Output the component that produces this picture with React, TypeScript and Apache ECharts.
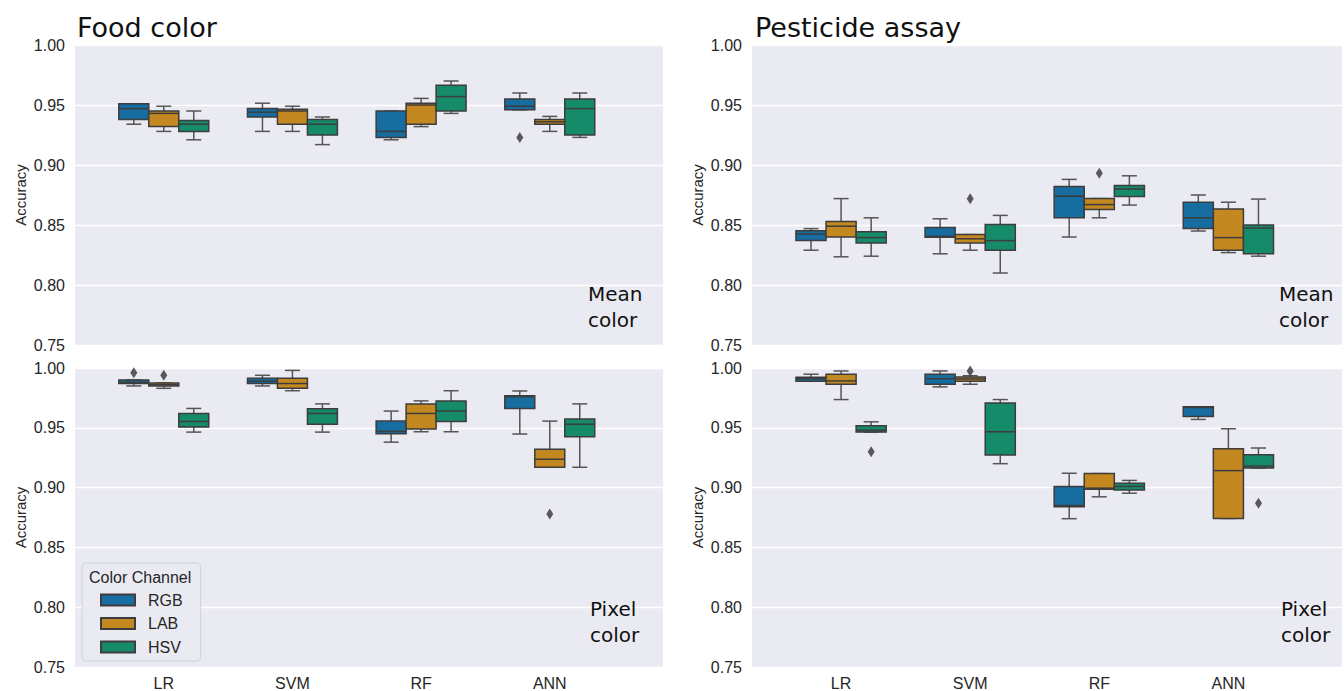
import React, { useEffect, useRef } from "react";
import * as echarts from "echarts";

const CATEGORIES = ["LR", "SVM", "RF", "ANN"];
const CHANNELS = ["RGB", "LAB", "HSV"];
const CHANNEL_COLORS = ["#176ca0", "#c38820", "#168b6a"];
const Y_MIN = 0.75;
const Y_MAX = 1.0;
const Y_STEP = 0.05;

// Each entry: [min, q1, median, q3, max] for LR, SVM, RF, ANN
const foodMeanRGB = [
  [0.934, 0.938, 0.947, 0.951, 0.951],
  [0.928, 0.94, 0.944, 0.947, 0.9515],
  [0.921, 0.923, 0.928, 0.945, 0.945],
  [0.946, 0.946, 0.949, 0.955, 0.96],
];
const foodMeanLAB = [
  [0.928, 0.932, 0.943, 0.945, 0.949],
  [0.928, 0.934, 0.945, 0.9465, 0.949],
  [0.932, 0.934, 0.95, 0.9515, 0.9555],
  [0.928, 0.934, 0.936, 0.938, 0.9405],
];
const foodMeanHSV = [
  [0.921, 0.928, 0.934, 0.937, 0.945],
  [0.917, 0.925, 0.934, 0.938, 0.94],
  [0.943, 0.945, 0.957, 0.9665, 0.97],
  [0.923, 0.925, 0.947, 0.955, 0.96],
];
// [channel index, category index, value]
const foodMeanOutliers = [[0, 3, 0.923]];

const pestMeanRGB = [
  [0.829, 0.837, 0.8425, 0.8453, 0.847],
  [0.826, 0.8397, 0.8405, 0.848, 0.8552],
  [0.84, 0.856, 0.874, 0.882, 0.888],
  [0.845, 0.847, 0.856, 0.869, 0.875],
];
const pestMeanLAB = [
  [0.8235, 0.84, 0.849, 0.853, 0.872],
  [0.829, 0.835, 0.8385, 0.842, 0.842],
  [0.856, 0.863, 0.867, 0.872, 0.872],
  [0.827, 0.829, 0.8395, 0.8633, 0.869],
];
const pestMeanHSV = [
  [0.824, 0.835, 0.8395, 0.8444, 0.856],
  [0.81, 0.829, 0.837, 0.8505, 0.858],
  [0.8666, 0.8737, 0.88, 0.883, 0.891],
  [0.824, 0.826, 0.8475, 0.85, 0.8716],
];
const pestMeanOutliers = [
  [1, 1, 0.8718],
  [1, 2, 0.8931],
];

const foodPixelRGB = [
  [0.985, 0.987, 0.988, 0.99, 0.99],
  [0.985, 0.987, 0.989, 0.9914, 0.9939],
  [0.938, 0.945, 0.947, 0.9556, 0.964],
  [0.9448, 0.9662, 0.976, 0.9767, 0.9808],
];
const foodPixelLAB = [
  [0.983, 0.985, 0.986, 0.9875, 0.9875],
  [0.981, 0.983, 0.987, 0.9914, 0.998],
  [0.9467, 0.949, 0.962, 0.97, 0.9725],
  [0.917, 0.917, 0.9237, 0.932, 0.9556],
];
const foodPixelHSV = [
  [0.9464, 0.9506, 0.9553, 0.962, 0.9662],
  [0.9464, 0.953, 0.962, 0.966, 0.97],
  [0.9467, 0.9553, 0.964, 0.9725, 0.981],
  [0.917, 0.9425, 0.953, 0.9573, 0.97],
];
const foodPixelOutliers = [
  [0, 0, 0.996],
  [1, 0, 0.994],
  [1, 3, 0.878],
];

const pestPixelRGB = [
  [0.989, 0.989, 0.991, 0.9923, 0.9948],
  [0.9842, 0.9864, 0.991, 0.9948, 0.9975],
  [0.874, 0.884, 0.885, 0.901, 0.912],
  [0.957, 0.9595, 0.967, 0.9675, 0.9675],
];
const pestPixelLAB = [
  [0.9736, 0.9864, 0.9892, 0.9948, 0.9975],
  [0.9864, 0.989, 0.9908, 0.9925, 0.9935],
  [0.8923, 0.8987, 0.8995, 0.9117, 0.9117],
  [0.8742, 0.8742, 0.9142, 0.9325, 0.9492],
];
const pestPixelHSV = [
  [0.9464, 0.9464, 0.948, 0.9517, 0.955],
  [0.92, 0.9273, 0.9467, 0.9708, 0.9736],
  [0.8953, 0.898, 0.901, 0.9037, 0.906],
  [0.9164, 0.9164, 0.918, 0.9275, 0.9331],
];
const pestPixelOutliers = [
  [2, 0, 0.93],
  [1, 1, 0.9975],
  [2, 3, 0.887],
];

const PANELS = [
  { stats: [foodMeanRGB, foodMeanLAB, foodMeanHSV], outliers: foodMeanOutliers, grid: { left: 75, top: 45, width: 588, height: 300 }, xLabels: false },
  { stats: [foodPixelRGB, foodPixelLAB, foodPixelHSV], outliers: foodPixelOutliers, grid: { left: 75, top: 368, width: 588, height: 300 }, xLabels: true },
  { stats: [pestMeanRGB, pestMeanLAB, pestMeanHSV], outliers: pestMeanOutliers, grid: { left: 752, top: 45, width: 590, height: 300 }, xLabels: false },
  { stats: [pestPixelRGB, pestPixelLAB, pestPixelHSV], outliers: pestPixelOutliers, grid: { left: 752, top: 368, width: 590, height: 300 }, xLabels: true },
];

const BOX_STEP = 0.233;
const BOX_W = 0.233;
const LINE_COLOR = "#3d3d3d";
const TEXT_COLOR = "#262626";
const SANS = "'Liberation Sans', Arial, sans-serif";
const TITLE_FONT = "'DejaVu Sans', Verdana, sans-serif";

function makeRenderItem(hue: number, color: string) {
  return (params: any, api: any) => {
    const ci = api.value(0);
    const x = ci + (hue - 1) * BOX_STEP;
    const mn = api.value(1);
    const q1 = api.value(2);
    const md = api.value(3);
    const q3 = api.value(4);
    const mx = api.value(5);
    const xc = api.coord([x, md])[0];
    const halfW = api.size([BOX_W, 0])[0] / 2;
    const yMin = api.coord([x, mn])[1];
    const yQ1 = api.coord([x, q1])[1];
    const yMd = api.coord([x, md])[1];
    const yQ3 = api.coord([x, q3])[1];
    const yMax = api.coord([x, mx])[1];
    const lineStyle = { stroke: "#555555", lineWidth: 1.5 };
    const capHalf = halfW / 2;
    return {
      type: "group",
      children: [
        { type: "line", shape: { x1: xc, y1: yQ3, x2: xc, y2: yMax }, style: lineStyle },
        { type: "line", shape: { x1: xc, y1: yQ1, x2: xc, y2: yMin }, style: lineStyle },
        { type: "line", shape: { x1: xc - capHalf, y1: yMax, x2: xc + capHalf, y2: yMax }, style: lineStyle },
        { type: "line", shape: { x1: xc - capHalf, y1: yMin, x2: xc + capHalf, y2: yMin }, style: lineStyle },
        {
          type: "rect",
          shape: { x: xc - halfW, y: yQ3, width: halfW * 2, height: Math.max(yQ1 - yQ3, 0.5) },
          style: { fill: color, stroke: LINE_COLOR, lineWidth: 1.5 },
        },
        { type: "line", shape: { x1: xc - halfW, y1: yMd, x2: xc + halfW, y2: yMd }, style: { stroke: LINE_COLOR, lineWidth: 1.5 } },
      ],
    };
  };
}

function buildOption() {
  const grid: any[] = [];
  const xAxis: any[] = [];
  const yAxis: any[] = [];
  const series: any[] = [];

  PANELS.forEach((panel, p) => {
    grid.push({ ...panel.grid, show: true, backgroundColor: "#eaeaf2", borderWidth: 0 });
    xAxis.push({
      type: "value",
      gridIndex: p,
      min: -0.69,
      max: 3.88,
      axisLine: { show: false },
      axisTick: { show: false },
      splitLine: { show: false },
      axisLabel: {
        show: panel.xLabels,
        customValues: [0, 1, 2, 3],
        formatter: (v: number) => CATEGORIES[Math.round(v)] ?? "",
        fontSize: 16,
        color: TEXT_COLOR,
        fontFamily: SANS,
        margin: 8,
      },
    });
    yAxis.push({
      type: "value",
      gridIndex: p,
      min: Y_MIN,
      max: Y_MAX,
      interval: Y_STEP,
      name: "Accuracy",
      nameLocation: "middle",
      nameGap: 47,
      nameTextStyle: { fontSize: 15, color: TEXT_COLOR, fontFamily: SANS },
      axisLine: { show: false },
      axisTick: { show: false },
      splitLine: { show: true, lineStyle: { color: "#ffffff", width: 1.3 } },
      axisLabel: {
        formatter: (v: number) => v.toFixed(2),
        fontSize: 16,
        color: TEXT_COLOR,
        fontFamily: SANS,
        margin: 10,
      },
    });
    panel.stats.forEach((hueStats, h) => {
      series.push({
        type: "custom",
        name: CHANNELS[h],
        xAxisIndex: p,
        yAxisIndex: p,
        clip: false,
        itemStyle: { color: CHANNEL_COLORS[h], borderColor: LINE_COLOR, borderWidth: 1 },
        encode: { x: 0, y: [1, 2, 3, 4, 5] },
        data: hueStats.map((s, i) => [i, ...s]),
        renderItem: makeRenderItem(h, CHANNEL_COLORS[h]),
      });
    });
    series.push({
      type: "scatter",
      name: "outliers" + p,
      xAxisIndex: p,
      yAxisIndex: p,
      symbol: "diamond",
      symbolSize: [7, 11],
      itemStyle: { color: "#333333" },
      data: panel.outliers.map(([h, c, v]) => [c + (h - 1) * BOX_STEP, v]),
      z: 5,
    });
  });

  const textStyleTitle = { fontSize: 27, fontFamily: TITLE_FONT, fill: "#111111" };
  const annStyle = { fontSize: 20, fontFamily: TITLE_FONT, fill: "#111111", lineHeight: 26 };

  const graphic: any[] = [
    { type: "text", left: 77, top: 14, z: 100, style: { ...textStyleTitle, text: "Food color" } },
    { type: "text", left: 755, top: 14, z: 100, style: { ...textStyleTitle, text: "Pesticide assay" } },
    { type: "text", x: 588, y: 307, z: 100, style: { ...annStyle, text: "Mean\ncolor", verticalAlign: "middle", align: "left" } },
    { type: "text", x: 1279, y: 307, z: 100, style: { ...annStyle, text: "Mean\ncolor", verticalAlign: "middle", align: "left" } },
    { type: "text", x: 590, y: 622, z: 100, style: { ...annStyle, text: "Pixel\ncolor", verticalAlign: "middle", align: "left" } },
    { type: "text", x: 1281, y: 622, z: 100, style: { ...annStyle, text: "Pixel\ncolor", verticalAlign: "middle", align: "left" } },
    {
      type: "text",
      x: 89,
      y: 577,
      z: 100,
      style: { text: "Color Channel", fontSize: 16, fontFamily: SANS, fill: TEXT_COLOR, verticalAlign: "middle", align: "left" },
    },
  ];

  return {
    animation: false,
    backgroundColor: "#ffffff",
    grid,
    xAxis,
    yAxis,
    series,
    graphic,
    legend: {
      data: CHANNELS,
      orient: "vertical",
      left: 82,
      top: 563,
      icon: "rect",
      itemWidth: 34,
      itemHeight: 11,
      itemGap: 5.5,
      padding: [28, 18, 5, 18],
      backgroundColor: "#eaeaf2",
      borderColor: "#d0d0d8",
      borderWidth: 1,
      borderRadius: 4,
      selectedMode: false,
      textStyle: { fontSize: 16, color: TEXT_COLOR, fontFamily: SANS, lineHeight: 18, padding: [0, 0, 0, 8] },
    },
  };
}

export default function App() {
  const ref = useRef<HTMLDivElement>(null);
  useEffect(() => {
    if (!ref.current) return;
    const chart = echarts.init(ref.current, undefined, { renderer: "svg" });
    chart.setOption(buildOption() as any);
    return () => chart.dispose();
  }, []);
  return (
    <div
      ref={ref}
      style={{ position: "absolute", left: 0, top: 0, width: 1344, height: 691, background: "#ffffff" }}
    />
  );
}
